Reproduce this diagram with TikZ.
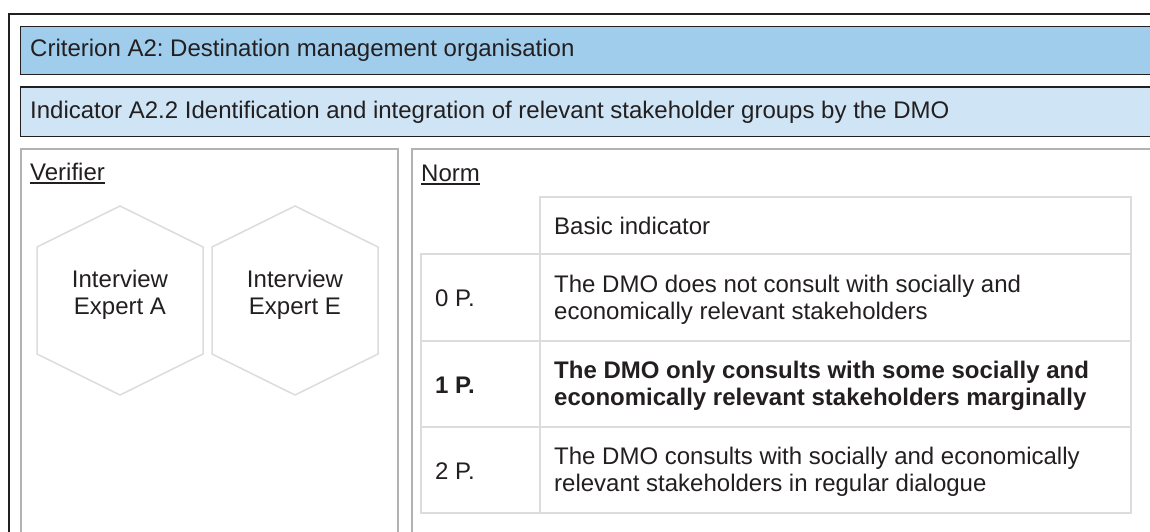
\documentclass[tikz,border=0pt]{standalone}
\usepackage{fontspec}
\setmainfont{Liberation Sans}
\usetikzlibrary{calc}
\frenchspacing
\definecolor{blue1}{RGB}{160,205,236}
\definecolor{blue2}{RGB}{207,229,245}
\definecolor{gray1}{RGB}{178,178,178}
\definecolor{gray2}{RGB}{220,220,220}
\definecolor{ink}{RGB}{35,31,32}

\begin{document}
\begin{tikzpicture}[x=1pt,y=-1pt,
    txt/.style={inner sep=0pt,text=ink,font=\fontsize{24}{27}\selectfont},
    boldtxt/.style={txt,font=\fontsize{24}{27}\selectfont\bfseries},
    cell/.style={draw=gray2,line width=1.3pt}]
    \useasboundingbox (0,0) rectangle (1150,532);
    \clip (0,0) rectangle (1150,532);
    \fill[white] (0,0) rectangle (1150,532);
    \draw[ink,line width=2.5pt] (9,560) -- (9,14) -- (1170,14);
    \path[fill=blue1,draw=ink,line width=1pt] (20,27) rectangle (1170,75);
    \path[fill=blue2,draw=ink,line width=1pt] (20,87) rectangle (1170,136);
    \draw[ink,line width=2pt] (20,87) -- (1170,87);
    \draw[gray1,line width=2pt] (21,560) -- (21,149) -- (398,149) -- (398,560);
    \draw[gray1,line width=2pt] (412,560) -- (412,149) -- (1170,149);

    \node[txt,anchor=base west] (crit) at (30,57) {Criterion A2: Destination management organisation};
    \node[txt,anchor=base west] (indic) at (30,118) {Indicator A2.2 Identification and integration of relevant stakeholder groups by the DMO};
    \node[txt,anchor=base west] (verif) at (30,180) {Verifier};
    \node[txt,anchor=base west] (norm) at (421,181) {Norm};
    \draw[ink,line width=1.5pt] ($(verif.base west)+(0,3)$) -- ($(verif.base east)+(0,3)$);
    \draw[ink,line width=1.5pt] ($(norm.base west)+(0,3)$) -- ($(norm.base east)+(0,3)$);

    \foreach \cx in {120,295}{
      \draw[gray2,line width=1.5pt] (\cx,206) --++ (83,41) --++ (0,107) --++ (-83,41) --++ (-83,-41) --++ (0,-107) -- cycle;
    }
    \node[txt,align=center] (expA) at (120,294.5) {Interview\\Expert A};
    \node[txt,align=center] (expE) at (295,294.5) {Interview\\Expert E};

    \draw[cell] (540,197) rectangle (1131,254);
    \foreach \ya/\yb in {254/341,341/427,427/513}{
      \draw[cell] (421,\ya) rectangle (540,\yb);
      \draw[cell] (540,\ya) rectangle (1131,\yb);
    }
    \node[txt,anchor=west] (basic) at (554,226) {Basic indicator};
    \node[txt,anchor=west] (p0) at (435,298.5) {0 P.};
    \node[txt,anchor=west,align=left] (d0) at (554,299.5) {The DMO does not consult with socially and\\economically relevant stakeholders};
    \node[boldtxt,anchor=west] (p1) at (435,385) {1 P.};
    \node[boldtxt,anchor=west,align=left] (d1) at (554,386) {The DMO only consults with some socially and\\economically relevant stakeholders marginally};
    \node[txt,anchor=west] (p2) at (435,471) {2 P.};
    \node[txt,anchor=west,align=left] (d2) at (554,472) {The DMO consults with socially and economically\\relevant stakeholders in regular dialogue};
  \end{tikzpicture}
\end{document}
